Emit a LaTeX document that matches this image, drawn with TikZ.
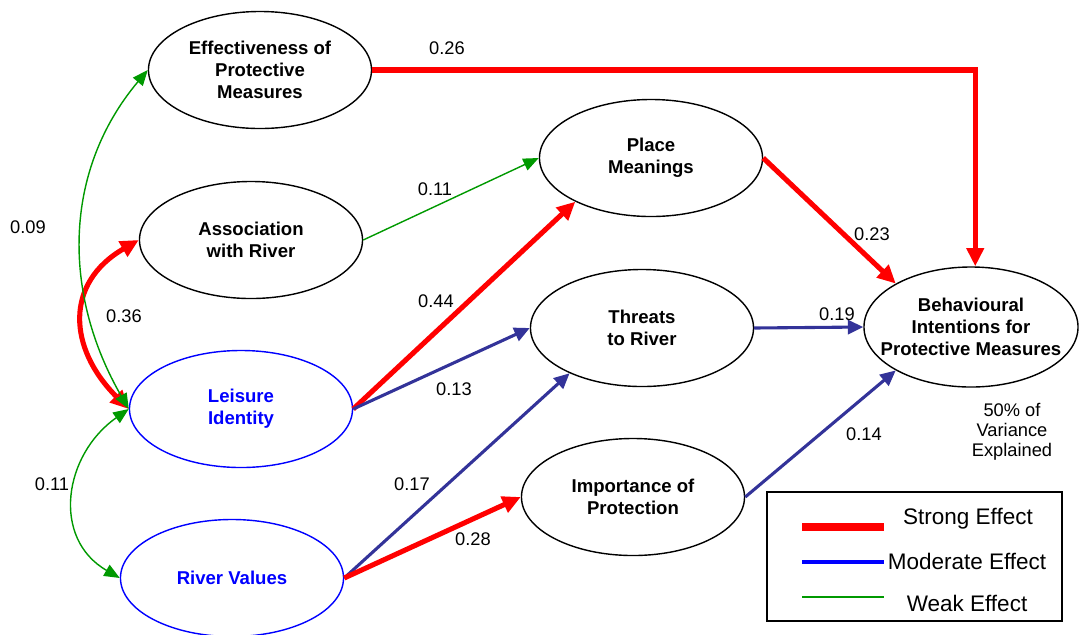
\documentclass[tikz,border=0pt]{standalone}
\usepackage{fontspec}
\setmainfont{Liberation Sans}
\usetikzlibrary{arrows.meta,shapes.geometric}
\definecolor{strongred}{RGB}{255,0,0}
\definecolor{modblue}{RGB}{51,51,153}
\definecolor{weakgreen}{RGB}{0,153,0}
\definecolor{idblue}{RGB}{0,0,255}

\begin{document}
\begin{tikzpicture}[x=0.025cm,y=0.025cm,
        construct/.style={ellipse,draw,line width=1pt,minimum width=5.575cm,minimum height=2.925cm,
            inner sep=0pt,align=center,font=\fontsize{13.2}{15.4}\selectfont\bfseries},
        exog/.style={construct,draw=idblue,text=idblue},
        strong/.style={draw=strongred,line width=3.6pt,>={Triangle[length=13pt,width=12pt]},->},
        moderate/.style={draw=modblue,line width=2.2pt,>={Triangle[length=11pt,width=10pt]},->},
        weak/.style={draw=weakgreen,line width=1pt,>={Triangle[length=11pt,width=9pt]},->},
        coef/.style={font=\fontsize{13}{15}\selectfont},
        key/.style={font=\fontsize{16}{19}\selectfont}]
    \useasboundingbox (0,0) rectangle (1079,-634);

    \node[construct] (eff) at (260,-70) {Effectiveness of\\Protective\\Measures};
    \node[construct] (assoc) at (251,-240) {Association\\with River};
    \node[exog] (leis) at (241,-409) {Leisure\\Identity};
    \node[exog] (rval) at (232,-578) {River Values};
    \node[construct] (place) at (651,-158) {Place\\Meanings};
    \node[construct] (threat) at (642,-328) {Threats\\to River};
    \node[construct] (imp) at (633,-497) {Importance of\\Protection};
    \node[construct,inner xsep=-1cm,minimum width=5.35cm,minimum height=3cm] (behav) at (971,-327)
        {Behavioural\\Intentions for\\Protective Measures};
    \node[coef,align=center,font=\fontsize{13}{14.2}\selectfont] (var) at (1012,-432)
        {50\% of\\Variance\\Explained};

    \draw[strong] (eff.east) -| (behav.86);
    \draw[strong] (place.east) -- (behav.150);
    \draw[weak] (assoc.east) -- (place.west);
    \draw[strong] (leis.east) -- (place.210);
    \draw[moderate] (leis.east) -- (threat.west);
    \draw[moderate] (threat.east) -- (behav.west);
    \draw[moderate] (rval.east) -- (threat.212);
    \draw[strong] (rval.east) -- (imp.west);
    \draw[moderate] (imp.east) -- (behav.210);

    \draw[strong,<->] (assoc.west) to[out=210,in=135,looseness=1.3] (leis.west);
    \draw[weak,<->] (eff.west) to[out=230,in=120] (leis.west);
    \draw[weak,<->] (leis.west) to[out=215,in=150,looseness=1.2] (rval.west);

    \node[coef] (c26) at (447,-48) {0.26};
    \node[coef] (c11a) at (435,-189) {0.11};
    \node[coef] (c44) at (436,-301) {0.44};
    \node[coef] (c13) at (454,-389) {0.13};
    \node[coef] (c23) at (872,-234) {0.23};
    \node[coef] (c19) at (837,-314) {0.19};
    \node[coef] (c17) at (412,-484) {0.17};
    \node[coef] (c28) at (473,-539) {0.28};
    \node[coef] (c14) at (864,-434) {0.14};
    \node[coef] (c09) at (28,-227) {0.09};
    \node[coef] (c36) at (124,-316) {0.36};
    \node[coef] (c11b) at (52,-484) {0.11};

    \node[draw,line width=1.4pt,minimum width=7.375cm,minimum height=3.225cm,inner sep=0pt]
        (legend) at (914.5,-556.5) {};
    \coordinate (ks) at (802,-527); \coordinate (ke) at (884,-527);
    \coordinate (ms) at (802,-562); \coordinate (me) at (884,-562);
    \coordinate (ws) at (802,-597); \coordinate (we) at (884,-597);
    \draw[strongred,line width=5pt] (ks) -- (ke);
    \draw[idblue,line width=2.8pt] (ms) -- (me);
    \draw[weakgreen,line width=1.4pt] (ws) -- (we);
    \node[key] (kstrong) at (968,-519) {Strong Effect};
    \node[key] (kmod) at (967,-561) {Moderate Effect};
    \node[key] (kweak) at (967,-603) {Weak Effect};
\end{tikzpicture}
\end{document}
